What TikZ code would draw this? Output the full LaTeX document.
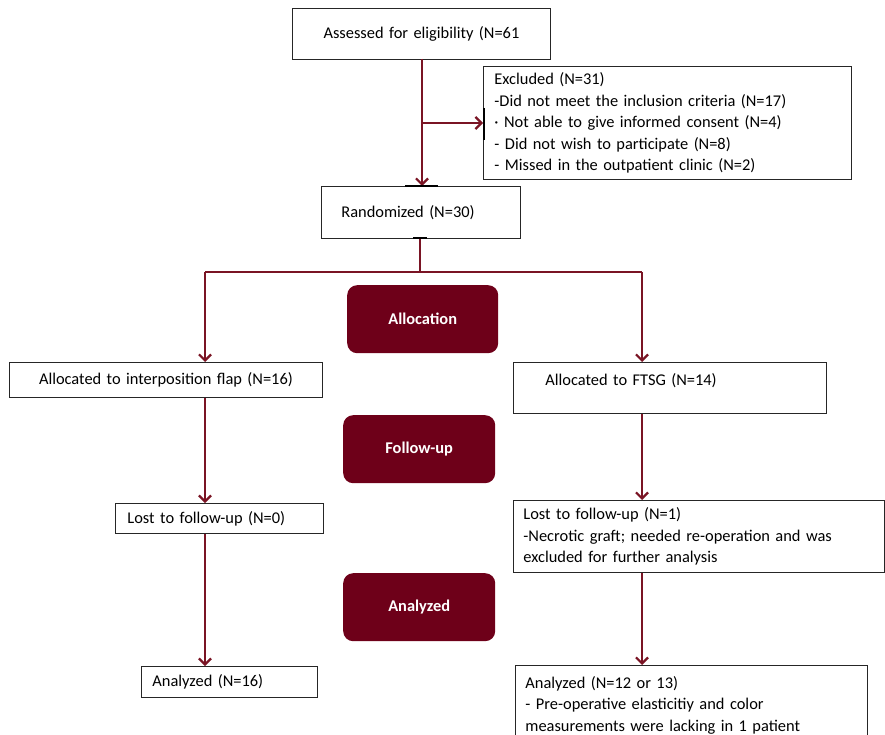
\documentclass[tikz,border=0pt]{standalone}
\usepackage{fontspec}
\setmainfont{Carlito}
\usetikzlibrary{arrows.meta}
\definecolor{phasered}{HTML}{6E0019}
\definecolor{arrowred}{HTML}{7A1424}
\begin{document}
\begin{tikzpicture}[x=1pt,y=-1pt,
  txtfont/.style={font=\fontsize{16.4}{21.5}\selectfont},
  box/.style={draw=black!85, line width=0.9pt, fill=white, anchor=north west, inner ysep=0pt, txtfont},
  phase/.style={fill=phasered, draw=none, rounded corners=10pt, text=white, font=\fontsize{16.4}{18}\selectfont\bfseries, anchor=north west, inner sep=0pt},
  conn/.style={draw=arrowred, line width=2.7pt},
  arr/.style={conn, -{Straight Barb[length=6pt,width=12pt,line width=2.2pt]}},
  edgemark/.style={draw=black, line width=2pt}
]
\useasboundingbox (0,0) rectangle (885,735);

% boxes
\node[box, minimum width=258pt, minimum height=51pt, text width=258pt, inner xsep=0pt, align=center] (assess) at (292,8) {Assessed for eligibility (N=61};
\node[box, minimum width=368pt, minimum height=113pt, text width=346pt, inner xsep=11pt, align=left] (excl) at (483,66)
  {Excluded (N=31)\\-Did not meet the inclusion criteria (N=17)\\\textperiodcentered\ Not able to give informed consent (N=4)\\- Did not wish to participate (N=8)\\- Missed in the outpatient clinic (N=2)};
\node[box, minimum width=199pt, minimum height=52pt, text width=159pt, inner xsep=20pt, align=left] (rand) at (321,186) {Randomized (N=30)};

\node[box, minimum width=313pt, minimum height=35pt, text width=313pt, inner xsep=0pt, align=center] (allocL) at (9,362) {Allocated to interposition flap (N=16)};
\node[box, minimum width=313pt, text width=249pt, inner xsep=32pt, align=left, text height=23pt, text depth=28pt] (allocR) at (513,362) {Allocated to FTSG (N=14)};

\node[box, minimum width=208pt, minimum height=30pt, text width=184pt, inner xsep=12pt, align=left] (lostL) at (115,503) {Lost to follow-up (N=0)};
\node[box, minimum width=371pt, minimum height=72pt, text width=351pt, inner xsep=10pt, align=left] (lostR) at (513,500)
  {Lost to follow-up (N=1)\\-Necrotic graft; needed re-operation and was\\excluded for further analysis};

\node[box, minimum width=176pt, minimum height=31pt, text width=154pt, inner xsep=11pt, align=left] (anaL) at (141,666) {Analyzed (N=16)};
\node[box, minimum width=352pt, text width=332pt, inner xsep=10pt, align=left, text height=23pt, text depth=50pt] (anaR) at (515,665)
  {Analyzed (N=12 or 13)\\- Pre-operative elasticitiy and color\\measurements were lacking in 1 patient};

% phase labels
\node[phase, minimum width=151pt, minimum height=68pt] (pAlloc) at (347,285) {Allocation};
\node[phase, minimum width=152pt, minimum height=68pt] (pFollow) at (343,415) {Follow-up};
\node[phase, minimum width=152pt, minimum height=68pt] (pAna) at (343,573) {Analyzed};

% connectors
\coordinate (top) at (422,59);
\coordinate (br) at (422,123);
\coordinate (split) at (420,272);
\coordinate (splitL) at (205,272);
\coordinate (splitR) at (642,272);

\draw[arr] (top) -- (top |- rand.north);
\draw[arr] (br) -- (br -| excl.west);
\draw[conn] (split |- rand.south) -- (split);
\draw[conn] (splitL) -- (splitR);
\draw[arr] (splitL) -- (splitL |- allocL.north);
\draw[arr] (splitR) -- (splitR |- allocR.north);
\draw[arr] (splitL |- allocL.south) -- (splitL |- lostL.north);
\draw[arr] (splitR |- allocR.south) -- (splitR |- lostR.north);
\draw[arr] (splitL |- lostL.south) -- (splitL |- anaL.north);
\draw[arr] (splitR |- lostR.south) -- (splitR |- anaR.north);

% small dark marks where arrows meet the boxes
\draw[edgemark] (405,186.5) -- (438,186.5);
\draw[edgemark] (483.5,108) -- (483.5,140);
\draw[edgemark] (413,237.5) -- (427,237.5);
\end{tikzpicture}
\end{document}
